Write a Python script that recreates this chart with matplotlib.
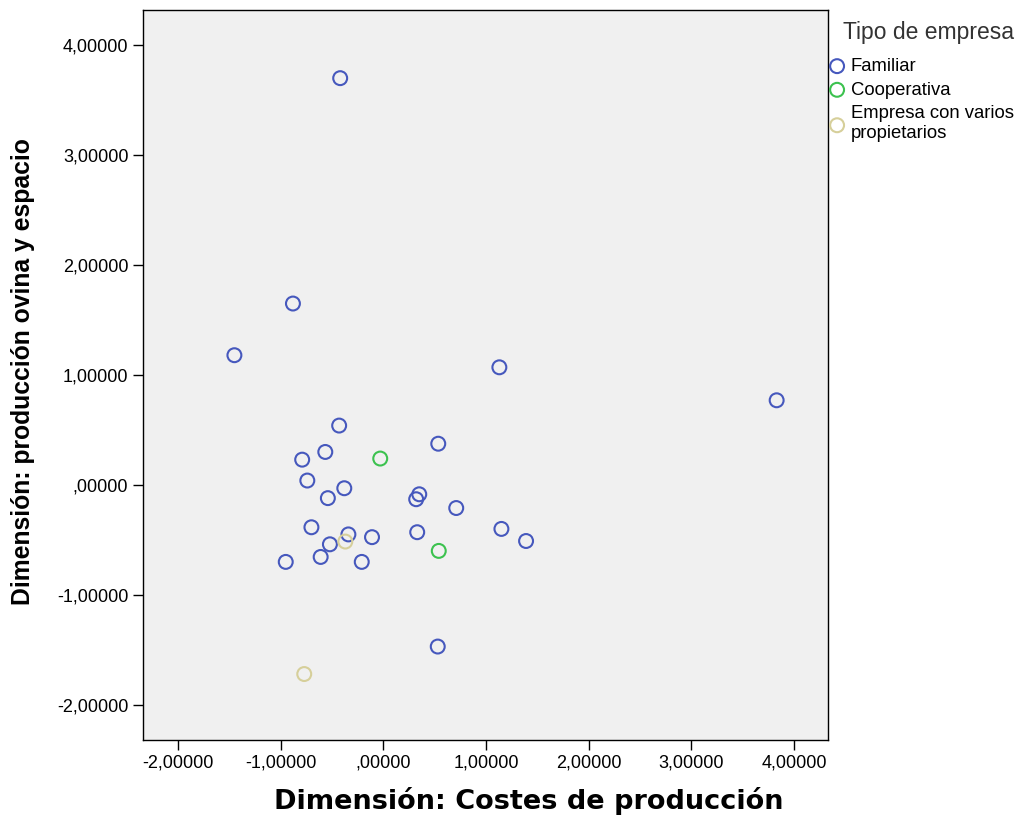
import matplotlib

matplotlib.use('Agg')
import matplotlib.pyplot as plt
from matplotlib.ticker import FuncFormatter

# Points per company type (x = Costes de producción, y = producción ovina y espacio)
familiar_x = [-0.42, -0.88, -1.45, 1.13, 3.83, -0.43, 0.535, -0.565, -0.79, -0.74,
              -0.38, -0.54, 0.35, 0.32, 0.71, -0.70, -0.34, -0.11, 0.33, 1.15,
              1.39, -0.52, -0.61, -0.95, -0.21, 0.53]
familiar_y = [3.70, 1.65, 1.18, 1.07, 0.77, 0.54, 0.375, 0.30, 0.23, 0.04,
              -0.03, -0.12, -0.085, -0.13, -0.21, -0.385, -0.45, -0.475, -0.43, -0.40,
              -0.51, -0.54, -0.655, -0.70, -0.70, -1.47]
coop_x = [-0.03, 0.54]
coop_y = [0.24, -0.60]
varios_x = [-0.37, -0.77]
varios_y = [-0.515, -1.72]

groups = ['Familiar', 'Cooperativa', 'Empresa con varios\npropietarios']
colors = ['#4658bd', '#3cc24f', '#d6cf9a']
xs = [familiar_x, coop_x, varios_x]
ys = [familiar_y, coop_y, varios_y]

x_ticks = [-2, -1, 0, 1, 2, 3, 4]
y_ticks = [-2, -1, 0, 1, 2, 3, 4]

W, H = 1027, 817


def spss_fmt(v, _pos):
    s = f'{v:.5f}'.replace('.', ',')
    if s.startswith('0,'):
        s = s[1:]
    elif s.startswith('-0,'):
        s = '-' + s[2:]
    return s


plt.rcParams['font.family'] = ['Liberation Sans', 'DejaVu Sans']

fig = plt.figure(figsize=(W / 100, H / 100), dpi=100)
ax = fig.add_axes([143 / W, 1 - 740 / H, (828 - 143) / W, (740 - 10) / H])
ax.set_facecolor('#f0f0f0')

for name, col, gx, gy in zip(groups, colors, xs, ys):
    ax.scatter(gx, gy, s=100, facecolors='none', edgecolors=col, linewidths=1.5,
               label=name)

ax.set_xlim(-2.34, 4.33)
ax.set_ylim(-2.32, 4.32)
ax.set_xticks(x_ticks)
ax.set_yticks(y_ticks)
ax.xaxis.set_major_formatter(FuncFormatter(spss_fmt))
ax.yaxis.set_major_formatter(FuncFormatter(spss_fmt))
ax.tick_params(direction='out', length=7, width=1, labelsize=13, colors='black')
for sp in ax.spines.values():
    sp.set_linewidth(1)

ax.set_xlabel('Dimensión: Costes de producción', fontsize=19.5, fontweight='bold',
              family=['DejaVu Sans'])
ax.xaxis.set_label_coords((529 - 143) / (828 - 143), -(787 - 740) / (740 - 10))
ax.set_ylabel('Dimensión: producción ovina y espacio', fontsize=17.8,
              fontweight='bold')
ax.yaxis.set_label_coords(-(143 - 35) / (828 - 143), 0.505)

fig.text(843 / W, 1 - 33 / H, 'Tipo de empresa', fontsize=16.5, color='#333333',
         va='center', ha='left')
leg = fig.legend(loc='upper left', bbox_to_anchor=(826 / W, 1 - 58 / H),
                 bbox_transform=fig.transFigure, frameon=False, fontsize=13.3,
                 handletextpad=0.15, borderaxespad=0, borderpad=0,
                 labelspacing=0.36, handlelength=1.2)

fig.savefig('out.png', dpi=100, facecolor='white')
